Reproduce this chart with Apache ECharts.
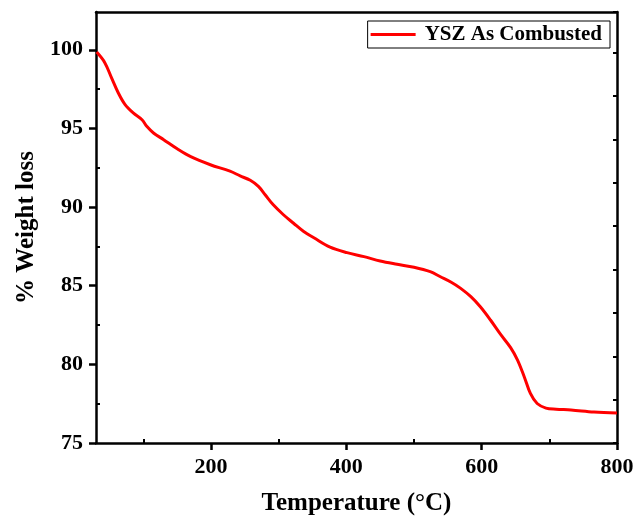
<!DOCTYPE html>
<html><head><meta charset="utf-8">
<script src="https://cdn.jsdelivr.net/npm/echarts@6/dist/echarts.min.js"></script>
<style>html,body{margin:0;padding:0;background:#fff}#c{width:644px;height:516px}</style>
</head><body><div id="c"></div>
<script>
const seriesName = 'YSZ As Combusted';
const temperature = [31,43,53,63,73,85,98,105,115,130,150,170,199,228,243,258,270,280,292,307,322,337,352,376,401,426,450,475,500,524,539,555,569,584,598,613,628,643,653,663,672,682,695,710,732,766,800];
const weight = [99.85,99.18,98.21,97.25,96.51,95.98,95.55,95.13,94.71,94.28,93.7,93.2,92.69,92.28,91.98,91.7,91.31,90.78,90.14,89.51,88.97,88.44,88.05,87.45,87.1,86.85,86.57,86.36,86.17,85.89,85.57,85.22,84.83,84.3,83.66,82.82,81.9,81.05,80.27,79.2,78.15,77.51,77.22,77.15,77.1,76.97,76.91];
const xMajor = [200,400,600,800];
const xMinor = [100,300,500,700];
const yMajor = [75,80,85,90,95,100];
const yMinor = [77.5,82.5,87.5,92.5,97.5];

const font = '"Liberation Serif","Times New Roman",serif';
const chart = echarts.init(document.getElementById('c'), null, {renderer:'canvas'});
const lineStyle = {color:'#000', width:2.5};
chart.setOption({
  animation:false,
  grid:{left:96, right:27, top:12, bottom:73, outerBoundsMode:'none', containLabel:false},
  legend:{
    data:[seriesName], right:34, top:21, orient:'horizontal',
    backgroundColor:'#fff', borderColor:'#000', borderWidth:1, borderRadius:0,
    padding:[3,8,3,3], itemWidth:45, itemHeight:3, itemGap:8,
    icon:'rect',
    textStyle:{fontFamily:font, fontWeight:'bold', fontSize:21, color:'#000', padding:[0,0,0,4]}
  },
  xAxis:[
    {type:'value', min:30, max:800, position:'bottom',
     axisLine:{show:true, onZero:false, lineStyle:lineStyle},
     axisTick:{show:true, length:7, inside:false, lineStyle:{color:'#000', width:2.5}, customValues:xMajor},
     axisLabel:{fontFamily:font, fontWeight:'bold', fontSize:22, color:'#000', margin:13, customValues:xMajor},
     splitLine:{show:false},
     name:'Temperature (°C)', nameLocation:'middle', nameGap:48,
     nameTextStyle:{fontFamily:font, fontWeight:'bold', fontSize:25, color:'#000'}
    },
    {type:'value', min:30, max:800, position:'bottom',
     axisLine:{show:false},
     axisTick:{show:true, length:4, inside:true, lineStyle:{color:'#000', width:2}, customValues:xMinor},
     axisLabel:{show:false}, splitLine:{show:false}
    },
    {type:'value', min:30, max:800, position:'top',
     axisLine:{show:true, onZero:false, lineStyle:lineStyle},
     axisTick:{show:false}, axisLabel:{show:false}, splitLine:{show:false}
    }
  ],
  yAxis:[
    {type:'value', min:75, max:102.4, position:'left',
     axisLine:{show:true, onZero:false, lineStyle:lineStyle},
     axisTick:{show:true, length:7, inside:false, lineStyle:{color:'#000', width:2.5}, customValues:yMajor},
     axisLabel:{fontFamily:font, fontWeight:'bold', fontSize:22, color:'#000', margin:13, customValues:yMajor},
     splitLine:{show:false},
     name:'% Weight loss', nameLocation:'middle', nameGap:54,
     nameTextStyle:{fontFamily:font, fontWeight:'bold', fontSize:25, color:'#000'}
    },
    {type:'value', min:75, max:102.4, position:'left',
     axisLine:{show:false},
     axisTick:{show:true, length:4, inside:true, lineStyle:{color:'#000', width:2}, customValues:yMinor},
     axisLabel:{show:false}, splitLine:{show:false}
    },
    {type:'value', min:0, max:9.94, interval:1, position:'right',
     axisLine:{show:true, onZero:false, lineStyle:lineStyle},
     axisTick:{show:true, length:4, inside:true, lineStyle:{color:'#000', width:2}},
     axisLabel:{show:false}, splitLine:{show:false}
    }
  ],
  series:[{
    name:seriesName, type:'line', xAxisIndex:0, yAxisIndex:0,
    data: temperature.map((t,i)=>[t, weight[i]]),
    smooth:0.35, showSymbol:false, symbol:'none',
    lineStyle:{color:'#ff0000', width:3}, itemStyle:{color:'#ff0000'}
  }]
});
</script></body></html>
